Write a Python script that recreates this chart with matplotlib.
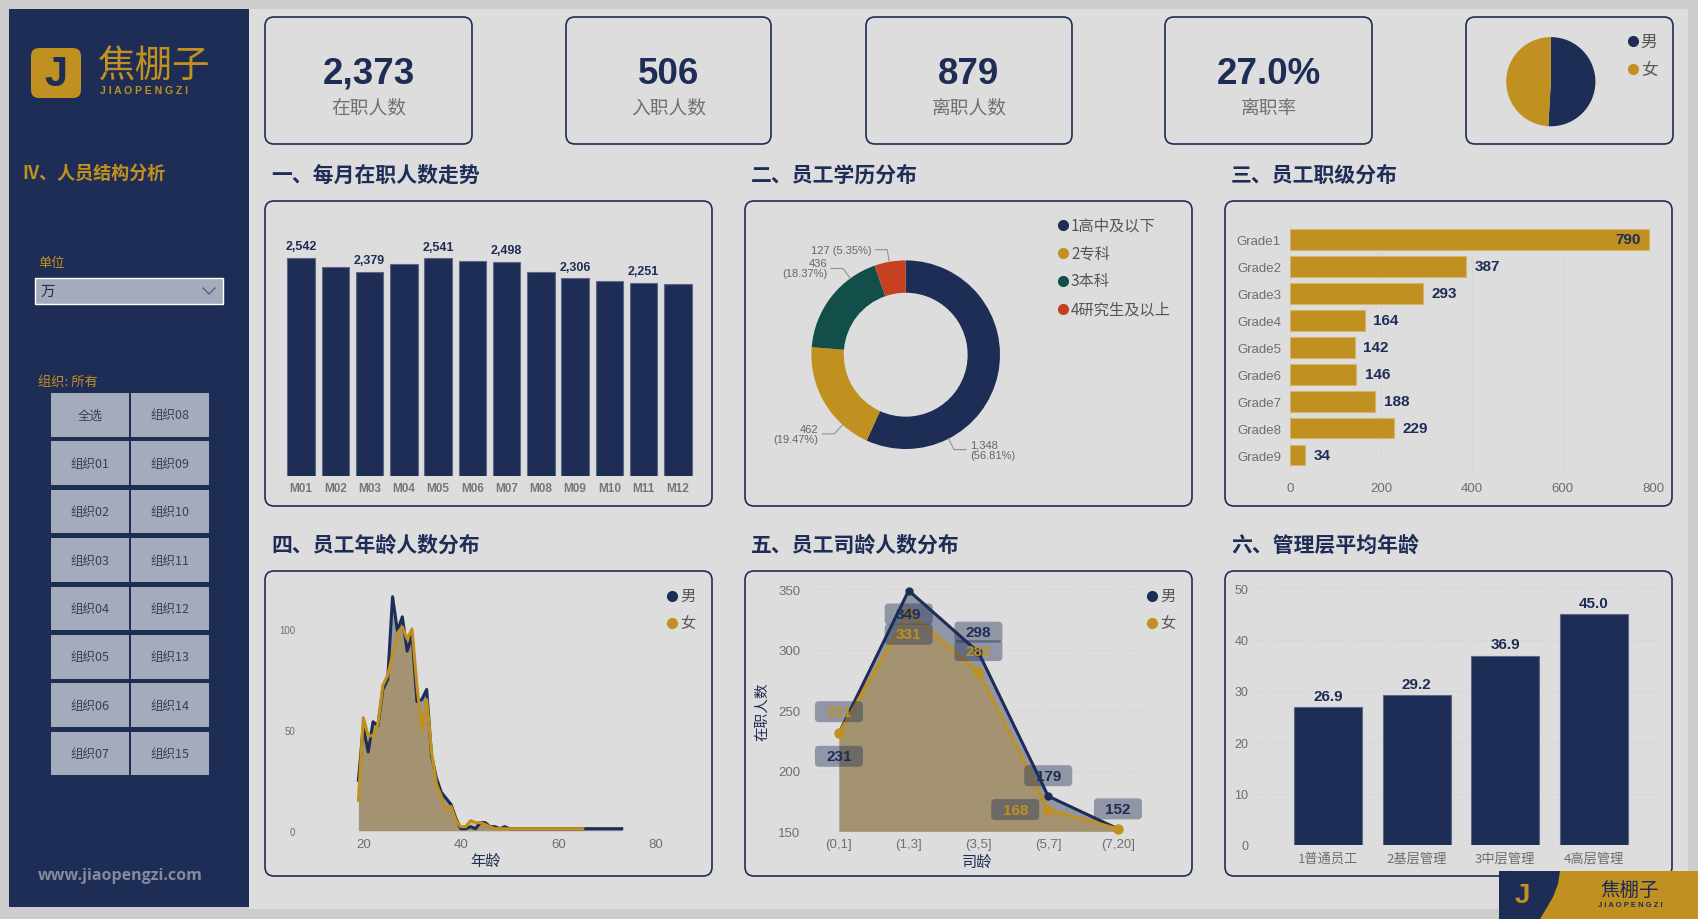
import matplotlib
matplotlib.use("Agg")
import matplotlib.pyplot as plt
from matplotlib.patches import FancyBboxPatch, Rectangle, Polygon
import numpy as np

# ---- data ----
kpi_values = ["2,373", "506", "879", "27.0%"]
kpi_labels = ["在职人数", "入职人数", "离职人数", "离职率"]

gender_names = ["男", "女"]
gender_counts = [1207, 1166]

months = ["M01", "M02", "M03", "M04", "M05", "M06", "M07", "M08", "M09", "M10", "M11", "M12"]
headcount = [2542, 2433, 2379, 2472, 2541, 2507, 2498, 2374, 2306, 2277, 2251, 2238]

edu_names = ["1高中及以下", "2专科", "3本科", "4研究生及以上"]
edu_counts = [1348, 462, 436, 127]

grades = ["Grade1", "Grade2", "Grade3", "Grade4", "Grade5", "Grade6", "Grade7", "Grade8", "Grade9"]
grade_counts = [790, 387, 293, 164, 142, 146, 188, 229, 34]

age_male = np.arange(19, 74)
cnt_male = [25, 52, 39, 54, 52, 70, 75, 116, 99, 106, 89, 97, 64, 65, 70, 37, 26, 19, 16, 13,
            6, 1, 1, 2, 1, 4, 4, 2, 2, 1, 2,
            1, 1, 1, 1, 1, 1, 1, 1, 1, 1, 1, 1, 1, 1, 1, 1, 1, 1, 1, 1, 1, 1, 1, 1]
age_female = np.arange(19, 66)
cnt_female = [15, 56, 47, 47, 53, 72, 77, 87, 98, 101, 95, 100, 72, 50, 65, 39, 23, 17, 10, 12,
              5, 2, 2, 5, 4, 4, 3, 2, 1, 1, 1,
              1, 1, 1, 1, 1, 1, 1, 1, 1, 1, 1, 1, 1, 1, 1, 1]

tenure = ["(0,1]", "(1,3]", "(3,5]", "(5,7]", "(7,20]"]
tenure_male = [231, 349, 298, 179, 152]
tenure_female = [231, 331, 282, 168, 152]

levels = ["1普通员工", "2基层管理", "3中层管理", "4高层管理"]
level_age = [26.9, 29.2, 36.9, 45.0]

orgs_left = ["全选", "组织01", "组织02", "组织03", "组织04", "组织05", "组织06", "组织07"]
orgs_right = ["组织08", "组织09", "组织10", "组织11", "组织12", "组织13", "组织14", "组织15"]

# ---- style ----
NAVY = "#1e2d55"
GOLD = "#c09020"
GREEN = "#134f4a"
RED = "#c4401f"
GREY = "#6e6e6e"
BG = "#dddddd"
NUM = ["Liberation Sans", "Noto Sans CJK SC"]

plt.rcParams["font.family"] = ["Noto Sans CJK SC", "DejaVu Sans"]

W, H = 1699, 920
fig = plt.figure(figsize=(W / 100, H / 100), dpi=100, facecolor="#cdcdcd")

bg = fig.add_axes([0, 0, 1, 1])
bg.set_xlim(0, W)
bg.set_ylim(H, 0)
bg.axis("off")


def ax_px(x0, y0, x1, y1):
    a = fig.add_axes([x0 / W, 1 - y1 / H, (x1 - x0) / W, (y1 - y0) / H])
    a.set_facecolor("none")
    return a


def card(x0, y0, x1, y1):
    bg.add_patch(FancyBboxPatch((x0, y0), x1 - x0, y1 - y0,
                                boxstyle="round,pad=0,rounding_size=9",
                                fc="none", ec=NAVY, lw=1.2))


def clean(a):
    for s in a.spines.values():
        s.set_visible(False)
    a.tick_params(length=0, colors=GREY)


def legend_dots(x, y0, names, colors, step, size=11):
    for i, (n, c) in enumerate(zip(names, colors)):
        bg.plot(x, y0 + i * step, "o", color=c, ms=7)
        bg.text(x + 8, y0 + i * step, n, fontsize=size, color="#555555", va="center")


# background panels
bg.add_patch(Rectangle((249, 10), 1439, 900, fc=BG, ec="none"))
bg.add_patch(Rectangle((9, 10), 240, 898, fc=NAVY, ec="none"))

# sidebar
bg.add_patch(FancyBboxPatch((31, 49), 50, 50, boxstyle="round,pad=0,rounding_size=8", fc=GOLD, ec="none"))
bg.text(56, 75, "J", fontsize=30, fontweight="bold", color=NAVY, ha="center", va="center", family=NUM)
bg.text(98, 66, "焦棚子", fontsize=27, color=GOLD, va="center")
bg.text(100, 91, "J I A O P E N G Z I", fontsize=7.5, fontweight="bold", color=GOLD, va="center", family=NUM)
bg.text(22, 173, "IV、人员结构分析", fontsize=13, fontweight="bold", color=GOLD, va="center")
bg.text(38, 264, "单位", fontsize=9.5, color=GOLD, va="center")
bg.add_patch(Rectangle((35, 279), 188, 26, fc="#a4abbb", ec="white", lw=1))
bg.text(41, 292, "万", fontsize=10.5, color=NAVY, va="center")
bg.plot([203, 209, 215], [289, 295, 289], color="#5a6280", lw=1)
bg.text(38, 382, "组织: 所有", fontsize=9.5, color=GOLD, va="center")
for i, (l, r) in enumerate(zip(orgs_left, orgs_right)):
    y = 394 + i * 48.4
    for x, s in ((51, l), (131, r)):
        bg.add_patch(Rectangle((x, y), 78, 43.5, fc="#a4abbb", ec="none"))
        bg.text(x + 39, y + 22, s, fontsize=9, color="#3a3f55", ha="center", va="center")
bg.text(38, 876, "www.jiaopengzi.com", fontsize=11.5, fontweight="bold", color="#858a9a",
        va="center", family=["Open Sans", "DejaVu Sans"])

# KPI cards
kpi_boxes = [(265, 472), (566, 771), (866, 1072), (1165, 1372)]
for (x0, x1), v, l in zip(kpi_boxes, kpi_values, kpi_labels):
    card(x0, 18, x1, 145)
    cx = (x0 + x1) / 2
    bg.text(cx, 74, v, fontsize=26.5, fontweight="bold", color=NAVY, ha="center", va="center", family=NUM)
    bg.text(cx, 108, l, fontsize=13.5, color="#707070", ha="center", va="center")
card(1466, 18, 1673, 145)

# gender pie
axp = ax_px(1550.8 - 50, 82.7 - 50, 1550.8 + 50, 82.7 + 50)
axp.pie(gender_counts, colors=[NAVY, GOLD], startangle=90, counterclock=False, radius=1,
        wedgeprops=dict(edgecolor="none"))
axp.set_xlim(-1.121, 1.121)
axp.set_ylim(-1.121, 1.121)
axp.set_aspect("equal")
legend_dots(1632.8, 42.3, gender_names, [NAVY, GOLD], 28, size=12)

# section titles and boxes
titles = [("一、每月在职人数走势", 271, 175), ("二、员工学历分布", 751, 175), ("三、员工职级分布", 1231, 175),
          ("四、员工年龄人数分布", 271, 545), ("五、员工司龄人数分布", 751, 545), ("六、管理层平均年龄", 1231, 545)]
for t, x, y in titles:
    bg.text(x, y, t, fontsize=15, fontweight="bold", color=NAVY, va="center")
for x0, x1 in ((265, 712), (745, 1192), (1225, 1672)):
    card(x0, 202, x1, 507)
    card(x0, 572, x1, 877)

# 1. monthly headcount
ax1 = ax_px(284, 215, 695, 477)
ax1.bar(months, headcount, width=0.8, color=NAVY, edgecolor="#5d6787", linewidth=0.8)
ax1.set_xlim(-0.5, 11.5)
ax1.set_ylim(0, 3055)
clean(ax1)
ax1.set_yticks([])
ax1.tick_params(axis="x", pad=4)
for lab in ax1.get_xticklabels():
    lab.set_fontsize(8.5)
    lab.set_fontweight("bold")
    lab.set_family(NUM)
    lab.set_color("#777777")
for i in range(0, 12, 2):
    ax1.annotate(f"{headcount[i]:,}", (i, headcount[i]), xytext=(0, 4), textcoords="offset points",
                 ha="center", va="bottom", fontsize=9, fontweight="bold", color=NAVY, family=NUM)

# 2. education donut
ax2 = ax_px(905.7 - 120, 355.7 - 120, 905.7 + 120, 355.7 + 120)
edu_colors = [NAVY, GOLD, GREEN, RED]
ax2.pie(edu_counts, colors=edu_colors, startangle=90, counterclock=False, radius=1,
        wedgeprops=dict(width=0.343, edgecolor="none"))
ax2.set_xlim(-1.2725, 1.2725)
ax2.set_ylim(-1.2725, 1.2725)
ax2.set_aspect("equal")
total = sum(edu_counts)
label_angles = [153, 222, 324, 350]
for cnt, ang in zip(edu_counts, label_angles):
    th = np.deg2rad(ang)
    p1 = np.array([np.sin(th), np.cos(th)])
    p2 = p1 * 1.13
    side = 1 if p1[0] > 0 else -1
    p3 = p2 + np.array([side * 0.127, 0])
    ax2.plot([p1[0], p2[0], p3[0]], [p1[1], p2[1], p3[1]], color="#909090", lw=0.8, clip_on=False)
    pct = cnt / total * 100
    txt = f"{cnt:,} ({pct:.2f}%)" if cnt == min(edu_counts) else f"{cnt:,}\n({pct:.2f}%)"
    ax2.text(p3[0] + side * 0.04, p3[1], txt, fontsize=8, color="#666666", linespacing=1.0,
             ha="left" if side > 0 else "right", va="center", family=NUM, clip_on=False)
legend_dots(1063, 226, edu_names, edu_colors, 28)

# 3. grade distribution
ax3 = ax_px(1290, 219, 1653.7, 471.7)
ax3.barh(range(len(grades)), grade_counts, height=0.77, color=GOLD, edgecolor="#d6b468", linewidth=0.8)
ax3.set_xlim(0, 800)
ax3.set_ylim(8.58, -0.79)
clean(ax3)
ax3.set_yticks(range(len(grades)))
ax3.set_yticklabels(grades, fontsize=9.5, color=GREY, family=NUM)
ax3.set_xticks([0, 200, 400, 600, 800])
ax3.set_xticklabels(["0", "200", "400", "600", "800"], fontsize=9.5, color=GREY, family=NUM)
ax3.tick_params(axis="y", pad=6.5)
ax3.tick_params(axis="x", pad=8)
ax3.grid(axis="x", color="#c8c8c8", linestyle=(0, (1, 3)), lw=0.8)
ax3.set_axisbelow(True)
for i, v in enumerate(grade_counts):
    inside = v > 700
    ax3.annotate(str(v), (v, i), xytext=(-6 if inside else 6, 0), textcoords="offset points",
                 ha="right" if inside else "left", va="center", fontsize=11, fontweight="bold",
                 color=NAVY, family=NUM)

# 4. age distribution
ax4 = ax_px(300, 590, 690, 831.7)
ax4.fill_between(age_male, cnt_male, 0, color=NAVY, alpha=0.4, lw=0)
ax4.fill_between(age_female, cnt_female, 0, color=GOLD, alpha=0.4, lw=0)
ax4.plot(age_male, cnt_male, color=NAVY, lw=2.2)
ax4.plot(age_female, cnt_female, color=GOLD, lw=2.2)
ax4.set_xlim(7.02, 87)
ax4.set_ylim(0, 119.8)
clean(ax4)
ax4.set_xticks([20, 40, 60, 80])
ax4.set_xticklabels(["20", "40", "60", "80"], fontsize=9.5, color=GREY, family=NUM)
ax4.set_yticks([0, 50, 100])
ax4.set_yticklabels(["0", "50", "100"], fontsize=7, color=GREY, family=NUM)
ax4.tick_params(axis="x", pad=5)
ax4.tick_params(axis="y", pad=3.6)
ax4.set_xlabel("年龄", fontsize=11, color=NAVY, va="center")
ax4.xaxis.set_label_coords(0.476, -0.124)
legend_dots(672.3, 596.7, gender_names, [NAVY, GOLD], 27.3)

# 5. tenure distribution
ax5 = ax_px(811.7, 590.3, 1141.7, 832.3)
xs = np.arange(len(tenure))
ax5.fill_between(xs, tenure_male, 150, color=NAVY, alpha=0.4, lw=0)
ax5.fill_between(xs, tenure_female, 150, color=GOLD, alpha=0.4, lw=0)
ax5.plot(xs, tenure_male, color=NAVY, lw=2.2, marker="o", ms=5, clip_on=False)
ax5.plot(xs, tenure_female, color=GOLD, lw=2.2, marker="o", ms=6.5, clip_on=False)
ax5.set_xlim(-0.39, 4.34)
ax5.set_ylim(150, 350)
clean(ax5)
ax5.set_xticks(xs)
ax5.set_xticklabels(tenure, fontsize=9.5, color=GREY, family=NUM)
ax5.set_yticks([150, 200, 250, 300, 350])
ax5.set_yticklabels(["150", "200", "250", "300", "350"], fontsize=9.5, color=GREY, family=NUM)
ax5.tick_params(axis="x", pad=5)
ax5.tick_params(axis="y", pad=8)
ax5.grid(axis="y", color="#c8c8c8", linestyle=(0, (1, 3)), lw=0.8)
ax5.set_axisbelow(True)
ax5.set_xlabel("司龄", fontsize=11, color=NAVY, va="center")
ax5.xaxis.set_label_coords(0.5, -0.1256)
ax5.set_ylabel("在职人数", fontsize=10.5, color=NAVY, va="center")
ax5.yaxis.set_label_coords(-0.1515, 0.5)

inv = bg.transData.inverted()
male_off = [(0, 23), (0, 23.5), (0, -20), (0, -20.5), (0, -20)]
female_off = [(0, -21.6), (0, 22), (0, -21), (-33, 0), None]
for vals, offs, col in ((tenure_male, male_off, NAVY), (tenure_female, female_off, GOLD)):
    for i, (v, off) in enumerate(zip(vals, offs)):
        if off is None:
            continue
        px, py = inv.transform(ax5.transData.transform((i, v)))
        cx, cy = px + off[0], py + off[1]
        box = FancyBboxPatch((cx - 24, cy - 10.5), 48, 21, boxstyle="round,pad=0,rounding_size=4",
                             fc=NAVY, alpha=0.4, ec="none", transform=bg.transData, zorder=5, clip_on=False)
        ax5.add_patch(box)
        ax5.text(cx, cy, str(v), transform=bg.transData, ha="center", va="center", fontsize=11,
                 fontweight="bold", color=col, family=NUM, zorder=6, clip_on=False)
legend_dots(1152, 596.7, gender_names, [NAVY, GOLD], 27.3)

# 6. management average age
ax6 = ax_px(1258, 589.3, 1661.7, 846)
ax6.bar(levels, level_age, width=0.77, color=NAVY, edgecolor="#5d6787", linewidth=0.8)
ax6.set_xlim(-0.795, 3.77)
ax6.set_ylim(0, 50)
clean(ax6)
ax6.set_yticks([0, 10, 20, 30, 40, 50])
ax6.set_yticklabels(["0", "10", "20", "30", "40", "50"], fontsize=9, color=GREY, family=NUM)
ax6.tick_params(axis="y", pad=7)
ax6.tick_params(axis="x", pad=5, labelsize=9.5, labelcolor=GREY)
ax6.grid(axis="y", color="#c8c8c8", linestyle=(0, (1, 3)), lw=0.8)
ax6.set_axisbelow(True)
for i, v in enumerate(level_age):
    ax6.annotate(f"{v:.1f}", (i, v), xytext=(0, 3), textcoords="offset points", ha="center",
                 va="bottom", fontsize=11, fontweight="bold", color=NAVY, family=NUM)

# bottom-right logo
bg.add_patch(Rectangle((1499, 872), 200, 48, fc=GOLD, ec="none", zorder=5))
bg.add_patch(Polygon([(1499, 872), (1560, 872), (1558, 885), (1553, 898), (1546, 910), (1540, 920), (1499, 920)],
                     closed=True, fc=NAVY, ec="none", zorder=6))
bg.text(1522, 896, "J", fontsize=20, fontweight="bold", color=GOLD, ha="center", va="center", family=NUM, zorder=7)
bg.text(1630, 890, "焦棚子", fontsize=14, color=NAVY, ha="center", va="center", zorder=7)
bg.text(1630, 906, "J I A O P E N G Z I", fontsize=5.5, fontweight="bold", color=NAVY, ha="center",
        va="center", family=NUM, zorder=7)

fig.savefig("out.png", dpi=100, facecolor=fig.get_facecolor())
